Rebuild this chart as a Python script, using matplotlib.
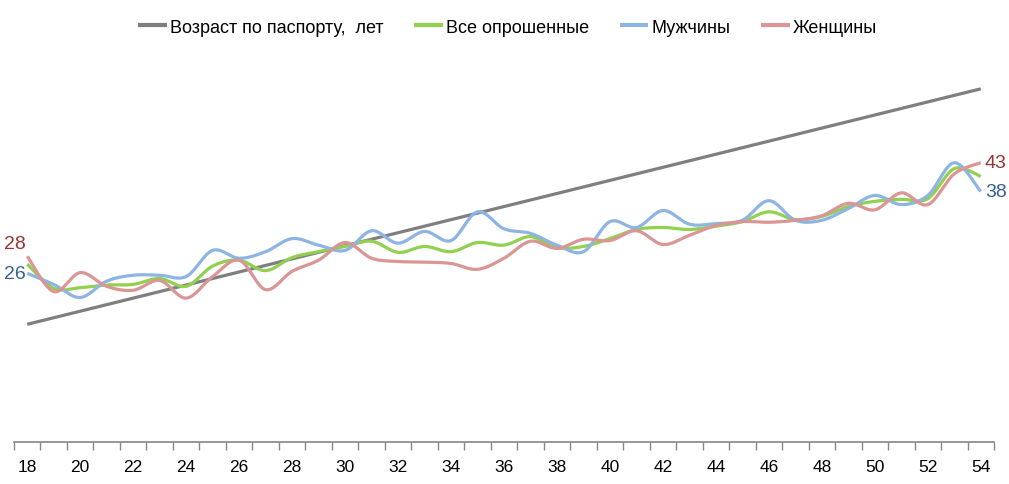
import numpy as np
import matplotlib.pyplot as plt

plt.rcParams['font.family'] = ['Liberation Sans', 'DejaVu Sans']

# ages on the x axis
ages = list(range(18, 55))

passport_age = ages
all_resp = [27.2, 23.5, 23.6, 24.0, 24.1, 25.0, 23.8, 26.9, 27.8, 26.2,
            28.2, 29.1, 29.9, 30.7, 29.0, 29.9, 29.1, 30.5, 30.1, 31.4,
            29.7, 29.9, 31.1, 32.5, 32.8, 32.5, 33.0, 33.7, 35.2, 34.0,
            34.5, 36.0, 36.8, 37.1, 37.2, 41.8, 40.6]
men = [25.8, 24.1, 22.1, 24.6, 25.5, 25.5, 25.3, 29.3, 28.1, 29.1,
       31.1, 30.1, 29.3, 32.3, 30.4, 32.2, 30.8, 35.2, 32.6, 31.9,
       30.1, 29.1, 33.7, 32.8, 35.4, 33.3, 33.4, 33.9, 36.9, 33.9,
       33.9, 35.7, 37.7, 36.3, 37.7, 42.7, 38.3]
women = [28.4, 23.0, 25.9, 23.8, 23.2, 24.7, 22.0, 25.3, 27.8, 23.3,
         26.1, 27.8, 30.5, 28.1, 27.6, 27.5, 27.3, 26.4, 28.1, 30.7,
         29.6, 31.0, 30.8, 32.3, 30.2, 31.6, 33.1, 33.7, 33.6, 33.9,
         34.6, 36.5, 35.5, 38.1, 36.3, 41.0, 42.7]

labels = ['Возраст по паспорту,  лет', 'Все опрошенные', 'Мужчины', 'Женщины']
colors = ['#7f7f7f', '#92d050', '#8eb4e3', '#d99694']


def smooth(x, y, n=20):
    # bezier smoothing like excel's "smoothed line"
    x = np.asarray(x, float)
    y = np.asarray(y, float)
    px = np.concatenate([[x[0]], x, [x[-1]]])
    py = np.concatenate([[y[0]], y, [y[-1]]])
    t = np.linspace(0, 1, n)[:, None]
    xs, ys = [], []
    for i in range(1, len(x)):
        p0 = np.array([px[i - 1], py[i - 1]])
        p1 = np.array([px[i], py[i]])
        p2 = np.array([px[i + 1], py[i + 1]])
        p3 = np.array([px[i + 2], py[i + 2]])
        c1 = p1 + (p2 - p0) / 6
        c2 = p2 - (p3 - p1) / 6
        b = ((1 - t) ** 3) * p1 + 3 * ((1 - t) ** 2) * t * c1 + 3 * (1 - t) * t ** 2 * c2 + t ** 3 * p2
        xs.append(b[:, 0])
        ys.append(b[:, 1])
    return np.concatenate(xs), np.concatenate(ys)


fig = plt.figure(figsize=(10.09, 4.85), dpi=100)
ax = fig.add_axes([14 / 1009, 42 / 485, 980 / 1009, 1 - 42 / 485 - 50.6 / 485])

series = [passport_age, all_resp, men, women]
for s, lab, c in zip(series, labels, colors):
    sx, sy = smooth(ages, s)
    ax.plot(sx, sy, color=c, lw=2.3, label=lab, solid_capstyle='butt')

ax.set_xlim(17.5, 54.5)
ax.set_ylim(0, 60)
for sp in ['top', 'right', 'left']:
    ax.spines[sp].set_visible(False)
ax.spines['bottom'].set_color('#868686')
ax.spines['bottom'].set_linewidth(1.2)
ax.set_yticks([])
ax.set_xticks(np.arange(17.5, 55, 1))
ax.set_xticklabels([])
ax.set_xticks(ages[::2], minor=True)
ax.set_xticklabels([str(a) for a in ages[::2]], minor=True, fontsize=12.5)
ax.tick_params(axis='x', which='major', length=6, color='#868686', width=1)
ax.tick_params(axis='x', which='minor', length=0, pad=12)

# end labels
ax.text(17.95, women[0] + 0.6, f'{women[0]:.0f}', color='#953735', fontsize=14,
        ha='right', va='bottom', clip_on=False)
ax.text(17.95, men[0], f'{men[0]:.0f}', color='#376092', fontsize=14,
        ha='right', va='center', clip_on=False)
ax.text(54.15, women[-1], f'{women[-1]:.0f}', color='#953735', fontsize=14,
        ha='left', va='center')
ax.text(54.15, men[-1], f'{men[-1]:.0f}', color='#376092', fontsize=14,
        ha='left', va='center')

leg = fig.legend(loc='upper center', bbox_to_anchor=(0.503, 0.993), ncol=4,
                 frameon=False, fontsize=13, handlelength=1.6,
                 handletextpad=0.15, columnspacing=1.7)
for h in leg.get_lines():
    h.set_linewidth(3)

fig.savefig('out.png', dpi=100)
